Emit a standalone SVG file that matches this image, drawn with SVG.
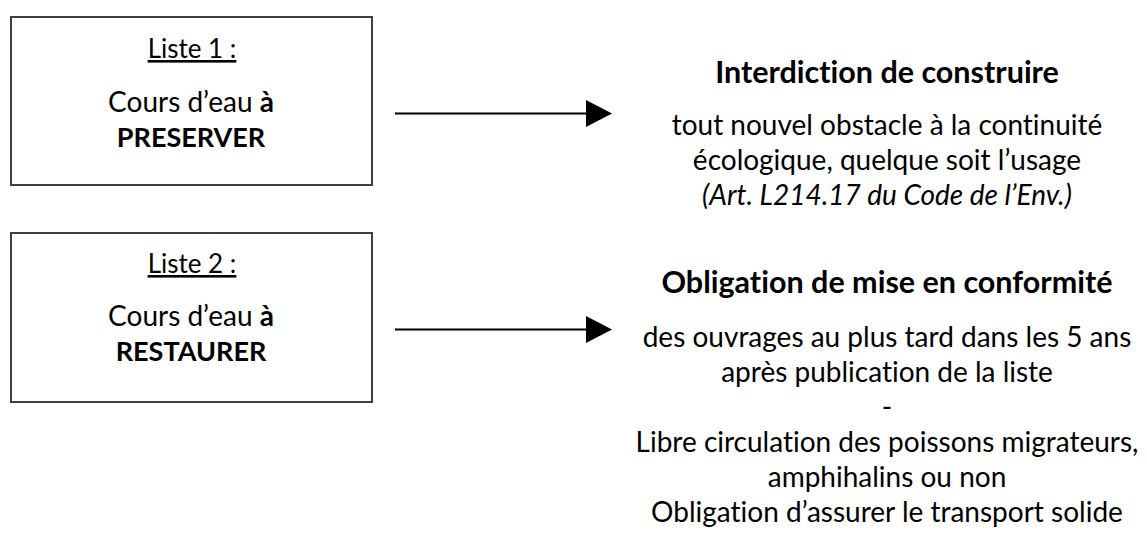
<svg xmlns="http://www.w3.org/2000/svg" width="1147" height="533" viewBox="0 0 1147 533">
<defs>
<style>
.box{fill:#fff;stroke:#404040;stroke-width:2}
.t{font-family:Lato,"Open Sans",sans-serif;font-size:28px;fill:#000;text-anchor:middle;font-variant-ligatures:none;font-feature-settings:"liga" 0,"dlig" 0}
.h{font-size:30.5px;font-weight:bold}
.b{font-weight:bold}
.c{font-size:27px;font-weight:bold}
.u{text-decoration:underline;font-size:26px}
.i{font-style:italic}
.conn{stroke:#000;stroke-width:2;fill:none}
</style>
<marker id="ah" viewBox="0 0 26 27" refX="0" refY="13.5" markerWidth="26" markerHeight="27" markerUnits="userSpaceOnUse" orient="auto">
<path d="M0,0 L26,13.5 L0,27 Z" fill="#000"/>
</marker>
</defs>
<rect width="1147" height="533" fill="#fff"/>
<g id="liste1">
<rect class="box" x="11" y="17" width="361" height="168"/>
<text class="t u" x="192" y="58">Liste 1 :</text>
<text class="t" x="191" y="112">Cours d’eau <tspan class="b">à</tspan></text>
<text class="t c" x="191" y="147">PRESERVER</text>
</g>
<g id="liste2">
<rect class="box" x="11" y="233" width="361" height="169"/>
<text class="t u" x="192" y="273">Liste 2 :</text>
<text class="t" x="191" y="326">Cours d’eau <tspan class="b">à</tspan></text>
<text class="t c" x="191" y="361">RESTAURER</text>
</g>
<g id="interdiction">
<text class="t h" x="887" y="83">Interdiction de construire</text>
<text class="t" x="887" y="135">tout nouvel obstacle à la continuité</text>
<text class="t" x="887" y="170">écologique, quelque soit l’usage</text>
<text class="t i" x="887" y="205">(Art. L214.17 du Code de l’Env.)</text>
</g>
<g id="obligation">
<text class="t h" x="887" y="293">Obligation de mise en conformité</text>
<text class="t" x="887" y="347">des ouvrages au plus tard dans les 5 ans</text>
<text class="t" x="887" y="382">après publication de la liste</text>
<text class="t" x="887" y="417">-</text>
<text class="t" x="887" y="452">Libre circulation des poissons migrateurs,</text>
<text class="t" x="887" y="487">amphihalins ou non</text>
<text class="t" x="887" y="522">Obligation d’assurer le transport solide</text>
</g>
<g id="connectors">
<line class="conn" x1="395" y1="113.5" x2="586" y2="113.5" marker-end="url(#ah)"/>
<line class="conn" x1="395" y1="329.5" x2="586" y2="329.5" marker-end="url(#ah)"/>
</g>
</svg>
